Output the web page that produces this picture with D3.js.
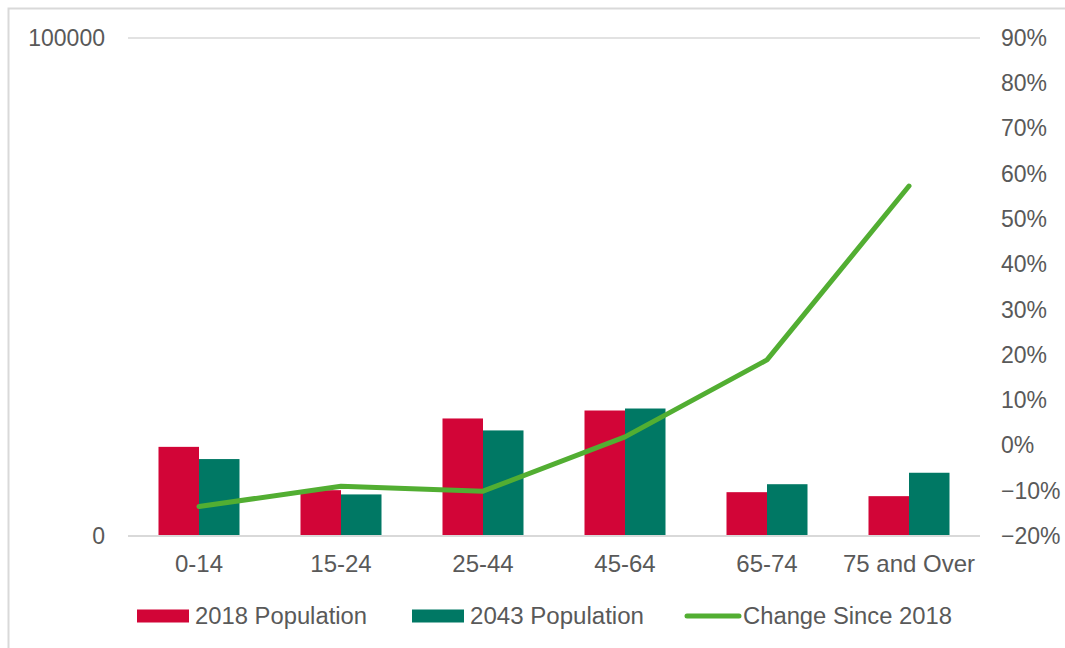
<!DOCTYPE html>
<html>
<head>
<meta charset="utf-8">
<script src="https://cdn.jsdelivr.net/npm/d3@7"></script>
<style>
  html, body { margin: 0; padding: 0; background: #fff; }
  text { font-family: "Liberation Sans", Arial, sans-serif; fill: #595959; }
</style>
</head>
<body>
<svg id="chart" width="1065" height="648"></svg>
<script>
const categories = ["0-14", "15-24", "25-44", "45-64", "65-74", "75 and Over"];
const pop2018 = [17900, 9200, 23600, 25200, 8800, 8000];
const pop2043 = [15450, 8350, 21200, 25600, 10400, 12700];
const changeSince2018 = [-0.135, -0.09, -0.101, 0.019, 0.189, 0.573];
const leftTicks = [0, 100000];
const rightTicks = [-0.2, -0.1, 0, 0.1, 0.2, 0.3, 0.4, 0.5, 0.6, 0.7, 0.8, 0.9];
const seriesNames = ["2018 Population", "2043 Population", "Change Since 2018"];

const colors = { red: "#D20537", teal: "#007864", green: "#52AE32", grid: "#D9D9D9" };

const svg = d3.select("#chart");
const margin = { left: 128, right: 85, top: 38, bottom: 112 };
const W = 1065, H = 648;
const x0 = margin.left, x1 = W - margin.right;   // 128 .. 980
const yTop = margin.top, yBot = H - margin.bottom; // 38 .. 536

// border
svg.append("rect").attr("x", 8.5).attr("y", 8.5).attr("width", 1100).attr("height", 700)
  .attr("fill", "none").attr("stroke", colors.grid).attr("stroke-width", 2);

const xc = d3.scaleBand().domain(categories).range([x0, x1]);
const yL = d3.scaleLinear().domain([0, 100000]).range([yBot, yTop]);
const yR = d3.scaleLinear().domain([-0.2, 0.9]).range([yBot, yTop]);

// gridline at top
svg.append("line").attr("x1", x0).attr("x2", x1).attr("y1", yL(100000)).attr("y2", yL(100000))
  .attr("stroke", colors.grid).attr("stroke-width", 1.5);

// bars
const groupW = 81;
const xs = d3.scaleBand().domain([0, 1]).range([0, groupW]);
const barsData = categories.map((c, i) => [
  { c, k: 0, v: pop2018[i] }, { c, k: 1, v: pop2043[i] }
]).flat();
svg.append("g").selectAll("rect").data(barsData).join("rect")
  .attr("x", d => xc(d.c) + xc.bandwidth() / 2 - groupW / 2 + xs(d.k))
  .attr("width", xs.bandwidth())
  .attr("y", d => yL(d.v))
  .attr("height", d => yL(0) - yL(d.v))
  .attr("fill", d => d.k === 0 ? colors.red : colors.teal);

// baseline
svg.append("line").attr("x1", x0).attr("x2", x1).attr("y1", yBot).attr("y2", yBot)
  .attr("stroke", colors.grid).attr("stroke-width", 2);

// line
const line = d3.line().x((d, i) => xc(categories[i]) + xc.bandwidth() / 2).y(d => yR(d));
svg.append("path").datum(changeSince2018).attr("d", line)
  .attr("fill", "none").attr("stroke", colors.green).attr("stroke-width", 5)
  .attr("stroke-linecap", "round").attr("stroke-linejoin", "round");

// left axis
const leftAxis = d3.axisLeft(yL).tickValues(leftTicks).tickSize(0).tickPadding(23).tickFormat(d3.format("d"));
const gL = svg.append("g").attr("transform", `translate(${x0},0)`).call(leftAxis);
gL.select(".domain").remove();
gL.selectAll("text").style("font-size", "23px").attr("fill", "#595959");

// right axis
const rightAxis = d3.axisRight(yR).tickValues(rightTicks).tickSize(0).tickPadding(21).tickFormat(d3.format(".0%"));
const gR = svg.append("g").attr("transform", `translate(${x1},0)`).call(rightAxis);
gR.select(".domain").remove();
gR.selectAll("text").style("font-size", "23px").attr("fill", "#595959");

// bottom axis
const bottomAxis = d3.axisBottom(xc).tickSize(0).tickPadding(19);
const gB = svg.append("g").attr("transform", `translate(0,${yBot})`).call(bottomAxis);
gB.select(".domain").remove();
gB.selectAll("text").style("font-size", "24px").attr("fill", "#595959");

// legend
const legendX = [137, 412, 685];
const legendTextW = [172, 174, 209];
const ly = 616;
seriesNames.forEach((name, i) => {
  const g = svg.append("g");
  if (i < 2) {
    g.append("rect").attr("x", legendX[i]).attr("y", ly - 6.5).attr("width", 52).attr("height", 13)
      .attr("fill", i === 0 ? colors.red : colors.teal);
  } else {
    g.append("line").attr("x1", legendX[i] + 2).attr("x2", legendX[i] + 54).attr("y1", ly).attr("y2", ly)
      .attr("stroke", colors.green).attr("stroke-width", 5).attr("stroke-linecap", "round");
  }
  g.append("text").attr("x", legendX[i] + 58).attr("y", ly).attr("dy", "0.35em")
    .style("font-size", "23px").attr("textLength", legendTextW[i]).attr("lengthAdjust", "spacingAndGlyphs")
    .text(name);
});
</script>
</body>
</html>
